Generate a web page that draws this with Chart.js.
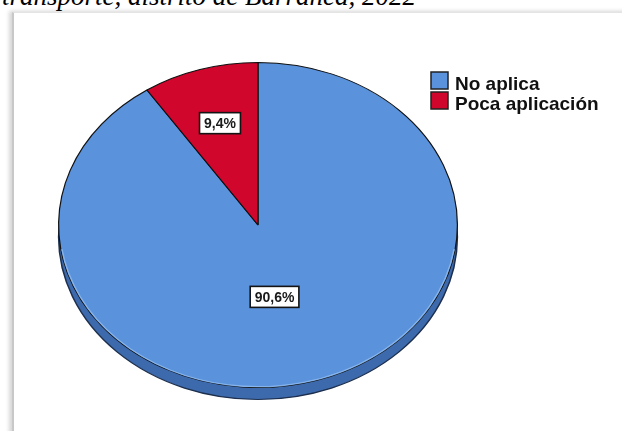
<!DOCTYPE html>
<html>
<head>
<meta charset="utf-8">
<script src="https://cdn.jsdelivr.net/npm/chart.js@4.4.1/dist/chart.umd.min.js"></script>
<style>
  html, body { margin: 0; padding: 0; background: #fff; width: 622px; height: 431px; overflow: hidden; }
  #title { position: absolute; left: 2px; top: -17px; font: italic 27px/27px "Liberation Serif", serif; white-space: nowrap; color: #000; }
  #frame { position: absolute; left: 12px; top: 12px; width: 640px; height: 440px;
           border-left: 2px solid #c8c8c8; border-top: 1px solid #e4e4e4;
           box-shadow: -3px -1px 4px rgba(0,0,0,0.16); }
  #pie { position: absolute; left: 0; top: 0; }
</style>
</head>
<body>
<div id="title">transporte, distrito de Barranca, 2022</div>
<div id="frame"></div>
<canvas id="pie" width="622" height="431"></canvas>
<script>
// chart data
var categories = ['No aplica', 'Poca aplicación'];
var percentages = [90.6, 9.4];
var pctLabels = ['90,6%', '9,4%'];
var sliceColors = ['#5a92dc', '#d0062c'];

// ellipse look (squash + depth of the 3D rim)
var SQUASH = 0.815;
var DEPTH = 12;
var LABEL_R = [0.45, 0.655];
var LABEL_TURN = [0.11, 0];

var ellipsePlugin = {
  id: 'ellipse',
  beforeDatasetsDraw: function (chart) {
    var arcs = chart.getDatasetMeta(0).data;
    var cx = arcs[0].x, cy = arcs[0].y, r = arcs[0].outerRadius;
    var ctx = chart.ctx;
    // rim below the top face
    ctx.save();
    ctx.translate(cx, cy + DEPTH);
    ctx.scale(1, SQUASH);
    ctx.beginPath();
    ctx.arc(0, 0, r, 0, Math.PI * 2);
    ctx.fillStyle = '#3d6aad';
    ctx.fill();
    ctx.lineWidth = 1.5;
    ctx.strokeStyle = '#1d2f4d';
    ctx.stroke();
    ctx.restore();
    // squash the slices themselves
    ctx.save();
    ctx.translate(cx, cy);
    ctx.scale(1, SQUASH);
    ctx.translate(-cx, -cy);
  },
  afterDatasetsDraw: function (chart) {
    var ctx = chart.ctx;
    ctx.restore();
    var arcs = chart.getDatasetMeta(0).data;
    var cx = arcs[0].x, cy = arcs[0].y, r = arcs[0].outerRadius;
    // light edge on the front of the top face
    ctx.save();
    ctx.translate(cx, cy);
    ctx.scale(1, SQUASH);
    ctx.beginPath();
    ctx.arc(0, 0, r - 1, 0.15, Math.PI - 0.15);
    ctx.lineWidth = 1.5;
    ctx.strokeStyle = 'rgba(140,185,240,0.9)';
    ctx.stroke();
    ctx.restore();
  },
  afterDraw: function (chart) {
    var ctx = chart.ctx;
    var arcs = chart.getDatasetMeta(0).data;
    // value boxes
    ctx.save();
    ctx.font = 'bold 14px "Liberation Sans", Arial, sans-serif';
    ctx.textAlign = 'center';
    ctx.textBaseline = 'middle';
    arcs.forEach(function (a, i) {
      var mid = (a.startAngle + a.endAngle) / 2 + LABEL_TURN[i];
      var rr = a.outerRadius * LABEL_R[i];
      var x = a.x + Math.cos(mid) * rr;
      var y = a.y + Math.sin(mid) * rr * SQUASH;
      var w = ctx.measureText(pctLabels[i]).width + 9;
      var h = 21;
      ctx.fillStyle = '#fff';
      ctx.fillRect(x - w / 2, y - h / 2, w, h);
      ctx.lineWidth = 1.6;
      ctx.strokeStyle = '#141414';
      ctx.strokeRect(x - w / 2, y - h / 2, w, h);
      ctx.fillStyle = '#1a1a1a';
      ctx.fillText(pctLabels[i], x, y + 1);
    });
    // legend
    ctx.font = 'bold 19px "Liberation Sans", Arial, sans-serif';
    ctx.textAlign = 'left';
    ctx.textBaseline = 'alphabetic';
    categories.forEach(function (c, i) {
      var y = 72 + i * 20;
      ctx.fillStyle = sliceColors[i];
      ctx.fillRect(431, y, 17, 17);
      ctx.lineWidth = 1.5;
      ctx.strokeStyle = '#222';
      ctx.strokeRect(431, y, 17, 17);
      ctx.fillStyle = '#111';
      ctx.fillText(c, 455, y + 17.5);
    });
    ctx.restore();
  }
};

new Chart(document.getElementById('pie').getContext('2d'), {
  type: 'pie',
  data: {
    labels: categories,
    datasets: [{
      data: percentages,
      backgroundColor: sliceColors,
      borderColor: '#111',
      borderWidth: 1.2
    }]
  },
  options: {
    responsive: false,
    animation: false,
    layout: { padding: { left: 58, right: 164, top: 25, bottom: 6 } },
    plugins: {
      legend: { display: false },
      tooltip: { enabled: false }
    }
  },
  plugins: [ellipsePlugin]
});
</script>
</body>
</html>
